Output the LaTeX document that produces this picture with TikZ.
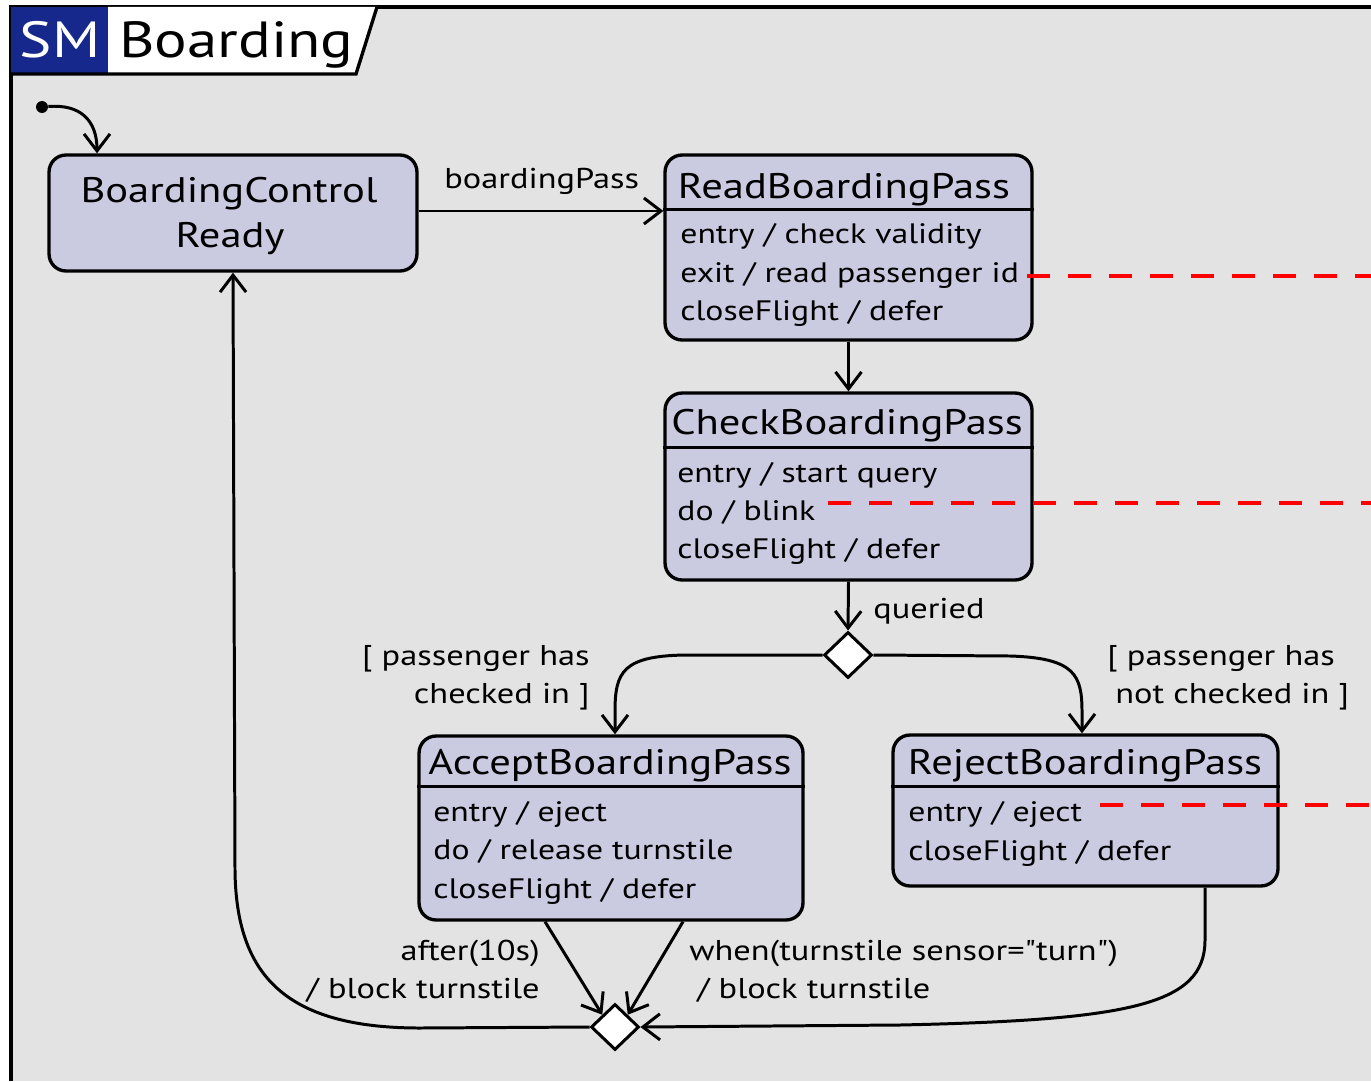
\documentclass[tikz,border=0pt]{standalone}
\usepackage{fontspec}
\setmainfont{PT Sans}[FakeStretch=1.2,Ligatures=TeXOff]
\usetikzlibrary{arrows.meta,shapes.geometric,calc}
\definecolor{bg}{RGB}{227,227,227}
\definecolor{statefill}{RGB}{202,202,224}
\definecolor{smblue}{RGB}{22,40,140}
\begin{document}
\begin{tikzpicture}[x=0.02cm,y=-0.02cm,
 state/.style={draw,line width=1.9pt,fill=statefill,rounded corners=0.34cm,inner sep=0},
 body/.style={font=\fontsize{16.0}{18}\selectfont,inner sep=0},
 ttl/.style={font=\fontsize{20.2}{22}\selectfont,inner sep=0},
 big/.style={font=\fontsize{28.9}{30}\selectfont,inner sep=0},
 lbl/.style={font=\fontsize{16.3}{18}\selectfont,inner sep=0},
 conn/.style={line width=1.7pt,-{Straight Barb[length=0.34cm,width=0.52cm,line width=1.7pt]}},
 sep/.style={line width=1.9pt},
 redline/.style={red,line width=2.8pt,dash pattern=on 0.46cm off 0.36cm},
 choice/.style={diamond,draw,fill=white,line width=1.7pt,minimum width=0.96cm,minimum height=0.92cm,inner sep=0}]
\useasboundingbox (0,0) rectangle (1371,1081);
\fill[white] (0,0) rectangle (1371,1081);
\fill[bg] (11,7) rectangle (1371,1081);
\draw[line width=2.3pt] (11,1081) -- (11,7) -- (1371,7);
% title tab
\fill[smblue] (11,7) rectangle (108,74);
\fill[white] (108,7) -- (377,7) -- (356,74) -- (108,74) -- cycle;
\draw[sep] (11,74) -- (356,74) -- (377,7);
\node[big,text=white,anchor=base] (sm) at (60,58) {SM};
\node[big,anchor=base west] (title) at (119,58) {Boarding};
% initial
\node[circle,fill=black,inner sep=0,minimum size=0.24cm] (init) at (42,107) {};
% states
\node[state,minimum width=7.36cm,minimum height=2.32cm] (bcr) at (233,213) {};
\node[ttl,anchor=base] (bcrA) at (229,202) {BoardingControl};
\node[ttl,anchor=base] (bcrB) at (230,247) {Ready};

\node[state,minimum width=7.34cm,minimum height=3.7cm] (read) at (848.5,247.5) {};
\draw[sep] ($(read.north west)+(0,56)$) -- ($(read.north east)+(0,56)$);
\node[ttl,anchor=base] (readT) at (844,198) {ReadBoardingPass};
\node[body,anchor=base west] (read1) at (680,243) {entry / check validity};
\node[body,anchor=base west] (read2) at (680,282) {exit / read passenger id};
\node[body,anchor=base west] (read3) at (680,320) {closeFlight / defer};

\node[state,minimum width=7.34cm,minimum height=3.74cm] (check) at (848.5,486.5) {};
\draw[sep] ($(check.north west)+(0,56)$) -- ($(check.north east)+(0,56)$);
\node[ttl,anchor=base] (checkT) at (847,434) {CheckBoardingPass};
\node[body,anchor=base west] (check1) at (677,482) {entry / start query};
\node[body,anchor=base west] (check2) at (677,520) {do / blink};
\node[body,anchor=base west] (check3) at (677,558) {closeFlight / defer};

\node[state,minimum width=7.68cm,minimum height=3.68cm] (accept) at (611,828) {};
\draw[sep] ($(accept.north west)+(0,52)$) -- ($(accept.north east)+(0,52)$);
\node[ttl,anchor=base] (acceptT) at (610,774) {AcceptBoardingPass};
\node[body,anchor=base west] (accept1) at (433,821) {entry / eject};
\node[body,anchor=base west] (accept2) at (433,859) {do / release turnstile};
\node[body,anchor=base west] (accept3) at (433,898) {closeFlight / defer};

\node[state,minimum width=7.70cm,minimum height=3.02cm] (reject) at (1085.5,810.5) {};
\draw[sep] ($(reject.north west)+(0,53)$) -- ($(reject.north east)+(0,53)$);
\node[ttl,anchor=base] (rejectT) at (1085,774) {RejectBoardingPass};
\node[body,anchor=base west] (reject1) at (908,821) {entry / eject};
\node[body,anchor=base west] (reject2) at (908,860) {closeFlight / defer};

% choice points
\node[choice] (d1) at (848,655) {};
\node[choice] (d2) at (615,1027) {};

% connectors
\draw[conn] (init) .. controls (80,104) and (97,120) .. (bcr.north -| 97,0);
\draw[conn] (bcr.east |- 0,211) -- (read.west |- 0,211);
\draw[conn] (read.south) -- (check.north);
\draw[conn] (check.south) -- (d1.north);
\draw[conn] (d1.west) -- (690,655) .. controls (622,655) and (615,672) .. (615,712) -- (accept.north -| 615,0);
\draw[conn] (d1.east) -- (1010,656) .. controls (1075,658) and (1082,675) .. (1082,712) -- (reject.north -| 1082,0);
\draw[conn] (accept.south -| 545,0) -- (d2.north west);
\draw[conn] (accept.south -| 683,0) -- (d2.north east);
\draw[conn] (reject.south -| 1205,0) -- (1205,940) .. controls (1205,1005) and (1130,1020) .. (900,1025) -- (d2.east);
\draw[conn] (d2.west) -- (420,1028) .. controls (285,1028) and (236,975) .. (235,870) -- (bcr.south -| 233,0);

% labels
\node[lbl,anchor=base west] (lbPass) at (444,189) {boardingPass};
\node[lbl,anchor=base west] (lbQ) at (873,618) {queried};
\node[lbl,anchor=base east] (lbA1) at (590,665) {[ passenger has};
\node[lbl,anchor=base east] (lbA2) at (590,703) {checked in ]};
\node[lbl,anchor=base west] (lbR1) at (1107,665) {[ passenger has};
\node[lbl,anchor=base west] (lbR2) at (1115,703) {not checked in ]};
\node[lbl,anchor=base east] (lbT1) at (540,960) {after(10s)};
\node[lbl,anchor=base east] (lbT2) at (540,998) {/ block turnstile};
\node[lbl,anchor=base west] (lbW1) at (689,960) {when(turnstile sensor="turn")};
\node[lbl,anchor=base west] (lbW2) at (697,998) {/ block turnstile};

% red dashed markers
\draw[redline] (1027,276) -- (1371,276);
\draw[redline] (828,503) -- (1371,503);
\draw[redline] (1100,805) -- (1371,805);
\end{tikzpicture}
\end{document}
